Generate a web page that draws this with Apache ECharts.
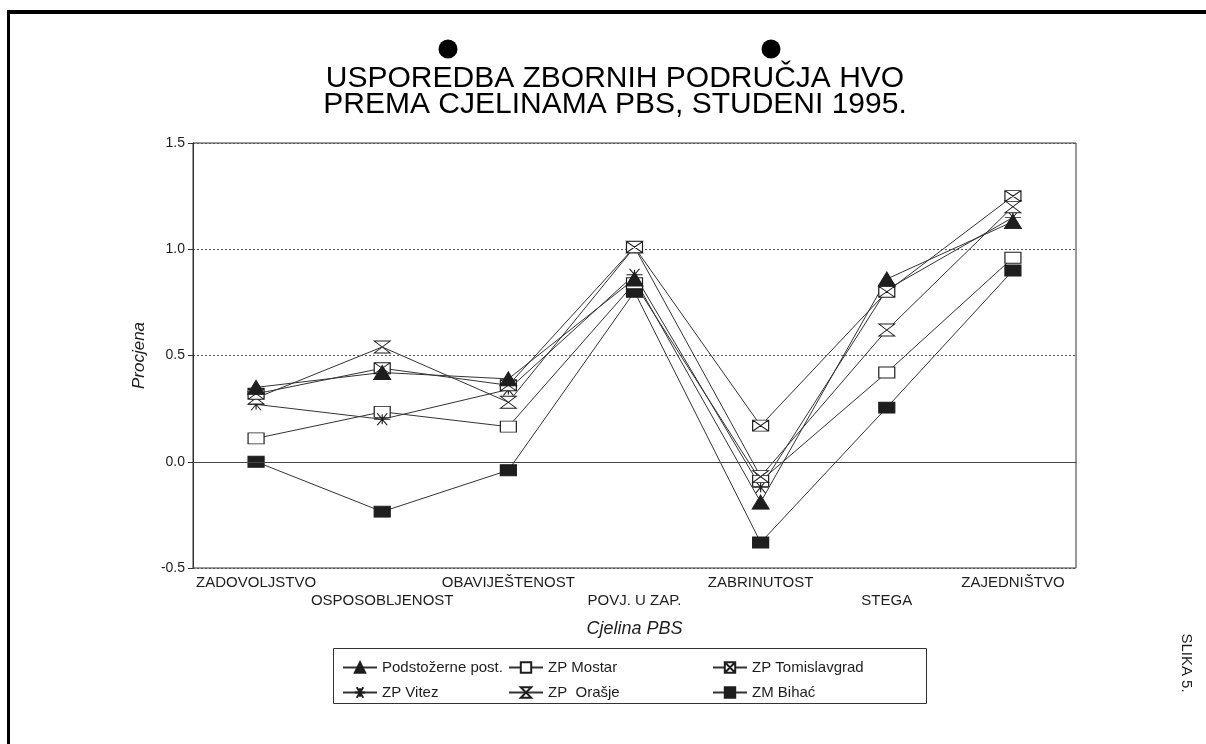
<!DOCTYPE html>
<html>
<head>
<meta charset="utf-8">
<title>Usporedba zbornih područja HVO</title>
<script src="https://cdn.jsdelivr.net/npm/echarts@6.0.0/dist/echarts.min.js"></script>
<style>
  html, body { margin: 0; padding: 0; background: #fff; }
  #chart { width: 1206px; height: 744px; }
</style>
</head>
<body>
<div id="chart"></div>
<script>
// cjeline PBS (x os)
const categories = ['ZADOVOLJSTVO', 'OSPOSOBLJENOST', 'OBAVIJEŠTENOST', 'POVJ. U ZAP.', 'ZABRINUTOST', 'STEGA', 'ZAJEDNIŠTVO']
const yTicks = [-0.5, 0, 0.5, 1.0, 1.5]

// procjene po zbornim područjima
const podstozerne = [0.35, 0.42, 0.39, 0.86, -0.19, 0.86, 1.13]
const mostar = [0.11, 0.235, 0.165, 0.84, -0.09, 0.42, 0.96]
const tomislavgrad = [0.32, 0.44, 0.36, 1.01, 0.17, 0.80, 1.25]
const vitez = [0.27, 0.20, 0.34, 0.88, -0.12, 0.81, 1.15]
const orasje = [0.30, 0.54, 0.28, 1.01, -0.07, 0.62, 1.20]
const bihac = [0.0, -0.235, -0.04, 0.80, -0.38, 0.255, 0.90]

const FONT = "'Liberation Sans', Arial, sans-serif"
const INK = '#1e1e1e'

const SYM = {
  triangle: 'path://M8,0L16,13L0,13Z',
  box: 'path://M0,0H16V11H0Z',
  boxX: 'path://M0,0H16V11H0Z M0,0L16,11 M16,0L0,11',
  star: 'path://M0,6H16 M3,0L13,12 M13,0L3,12 M8,1V11',
  hourglass: 'path://M0,0L16,0L0,12L16,12Z',
}

function makeSeries(name, data, symbol, size, fill) {
  return {
    name,
    type: 'line',
    data,
    symbol,
    symbolSize: size,
    showAllSymbol: true,
    lineStyle: { color: '#333', width: 1 },
    itemStyle: { color: fill, borderColor: INK, borderWidth: 1 },
    emphasis: { disabled: true },
  }
}

const series = [
  makeSeries('ZM Bihać', bihac, SYM.box, [16, 11], INK),
  makeSeries('ZP Mostar', mostar, SYM.box, [16, 11], '#fff'),
  makeSeries('ZP Vitez', vitez, SYM.star, [16, 12], '#fff'),
  makeSeries('ZP  Orašje', orasje, SYM.hourglass, [16, 12], '#fff'),
  makeSeries('ZP Tomislavgrad', tomislavgrad, SYM.boxX, [16, 11], '#fff'),
  makeSeries('Podstožerne post.', podstozerne, SYM.triangle, [17, 14], INK),
]
// puna linija na 0.0
series[0].markLine = {
  silent: true,
  symbol: 'none',
  label: { show: false },
  lineStyle: { type: 'solid', color: '#444', width: 1 },
  data: [{ yAxis: 0 }],
}

const legendBase = {
  orient: 'vertical',
  top: 655,
  itemWidth: 34,
  itemHeight: 13,
  itemGap: 10,
  selectedMode: false,
  textStyle: { fontFamily: FONT, fontSize: 15, color: INK },
}

const option = {
  animation: false,
  textStyle: { fontFamily: FONT },
  grid: {
    left: 193,
    right: 130,
    top: 143,
    height: 425,
    show: true,
    borderColor: '#333',
    borderWidth: 1,
  },
  legend: [
    Object.assign({}, legendBase, { left: 337, data: ['Podstožerne post.', 'ZP Vitez'] }),
    Object.assign({}, legendBase, { left: 503, data: ['ZP Mostar', 'ZP  Orašje'] }),
    Object.assign({}, legendBase, { left: 707, data: ['ZP Tomislavgrad', 'ZM Bihać'] }),
  ],
  xAxis: {
    type: 'category',
    data: categories,
    name: 'Cjelina PBS',
    nameLocation: 'middle',
    nameGap: 52,
    nameTextStyle: { fontFamily: FONT, fontSize: 18, fontStyle: 'italic', color: INK },
    axisLine: { lineStyle: { color: '#333' } },
    axisTick: { alignWithLabel: true, length: 7, lineStyle: { color: '#333' } },
    axisLabel: {
      interval: 0,
      margin: 7,
      formatter: (v, i) => (i % 2 ? '{lo|' + v + '}' : '{hi|' + v + '}'),
      rich: {
        hi: { fontFamily: FONT, fontSize: 15, color: INK },
        lo: { fontFamily: FONT, fontSize: 15, color: INK, padding: [18, 0, 0, 0] },
      },
    },
    splitLine: { show: false },
  },
  yAxis: {
    type: 'value',
    min: yTicks[0],
    max: yTicks[yTicks.length - 1],
    interval: 0.5,
    name: 'Procjena',
    nameLocation: 'middle',
    nameGap: 45,
    nameTextStyle: { fontFamily: FONT, fontSize: 17, fontStyle: 'italic', color: INK },
    axisLine: { show: true, lineStyle: { color: '#333' } },
    axisTick: { show: true, length: 5, lineStyle: { color: '#333' } },
    axisLabel: {
      margin: 8,
      fontFamily: FONT,
      fontSize: 14,
      color: INK,
      formatter: (v) => v.toFixed(1),
    },
    splitLine: { show: true, lineStyle: { type: [2, 2], color: '#555', width: 1 } },
  },
  graphic: [
    // rub skenirane stranice
    { type: 'rect', left: 7, top: 10, shape: { width: 1199, height: 4 }, style: { fill: '#000' } },
    { type: 'rect', left: 7, top: 10, shape: { width: 3, height: 734 }, style: { fill: '#000' } },
    { type: 'circle', shape: { cx: 448, cy: 49, r: 9.5 }, style: { fill: '#000' } },
    { type: 'circle', shape: { cx: 771, cy: 49, r: 9.5 }, style: { fill: '#000' } },
    {
      type: 'text',
      x: 615,
      y: 79,
      style: {
        text: 'USPOREDBA ZBORNIH PODRUČJA HVO',
        font: '30px ' + FONT,
        fill: '#000',
        align: 'center',
        verticalAlign: 'middle',
      },
    },
    {
      type: 'text',
      x: 615,
      y: 105,
      style: {
        text: 'PREMA CJELINAMA PBS, STUDENI 1995.',
        font: '30px ' + FONT,
        fill: '#000',
        align: 'center',
        verticalAlign: 'middle',
      },
    },
    // okvir legende
    {
      type: 'rect',
      shape: { x: 333.5, y: 648.5, width: 593, height: 55 },
      style: { fill: 'none', stroke: '#333', lineWidth: 1 },
    },
    {
      type: 'text',
      x: 1186,
      y: 663,
      rotation: -Math.PI / 2,
      style: {
        text: 'SLIKA 5.',
        font: '15px ' + FONT,
        fill: INK,
        align: 'center',
        verticalAlign: 'middle',
      },
    },
  ],
  series,
}

const myChart = echarts.init(document.getElementById('chart'))
myChart.setOption(option)
</script>
</body>
</html>
